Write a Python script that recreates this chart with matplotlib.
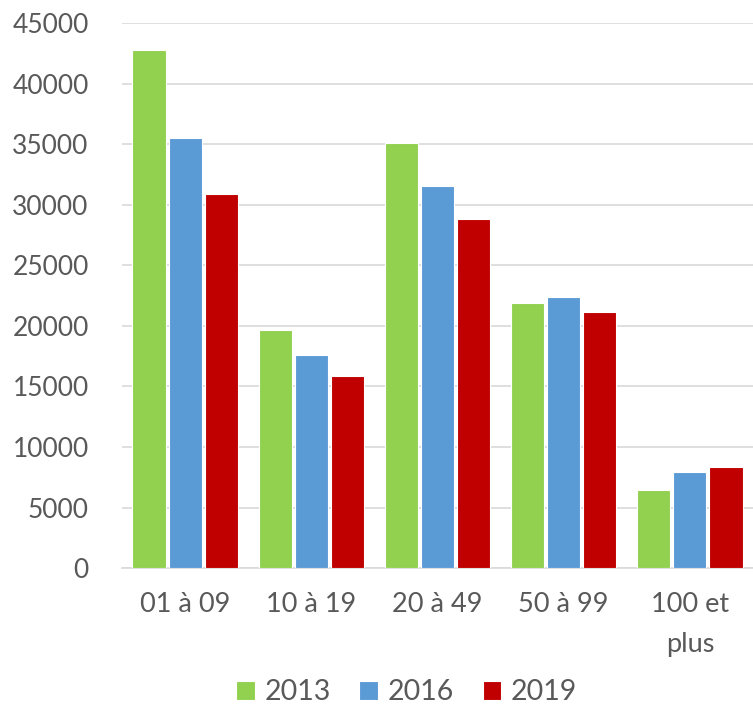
import numpy as np
import matplotlib.pyplot as plt

categories = ["01 à 09", "10 à 19", "20 à 49", "50 à 99", "100 et\nplus"]
years = ["2013", "2016", "2019"]
v2013 = [42770, 19650, 35090, 21880, 6440]
v2016 = [35500, 17590, 31540, 22380, 7930]
v2019 = [30880, 15850, 28820, 21140, 8340]
colors = ["#92D050", "#5B9BD5", "#C00000"]

plt.rcParams["font.family"] = ["Lato", "DejaVu Sans"]

fig = plt.figure(figsize=(7.53, 7.04), dpi=100)
ax = fig.add_axes([0.162, 0.193, 0.838, 0.774])

x = np.arange(len(categories))
w = 0.262
for i, (vals, c, lab) in enumerate(zip([v2013, v2016, v2019], colors, years)):
    ax.bar(x + (i - 1) * (w + 0.024), vals, width=w, color=c, edgecolor="white",
           linewidth=0.8, label=lab, zorder=3)

ax.set_xlim(-0.5, len(categories) - 0.5)
ax.set_ylim(0, 45000)
ax.set_yticks(np.arange(0, 45001, 5000))
ax.set_xticks(x)
ax.set_xticklabels(categories, linespacing=1.75)
ax.tick_params(axis="both", length=0, colors="#595959")
ax.tick_params(axis="x", labelsize=19.5, pad=17)
ax.tick_params(axis="y", labelsize=19, pad=24)
ax.grid(axis="y", color="#D9D9D9", linewidth=1.2, zorder=0)
for s in ["top", "right", "left"]:
    ax.spines[s].set_visible(False)
ax.spines["bottom"].set_color("#D9D9D9")
ax.spines["bottom"].set_linewidth(1.2)

fig.legend(loc="lower center", bbox_to_anchor=(0.54, -0.038), ncol=3, frameon=False,
           fontsize=20.5, labelcolor="#595959", handlelength=0.65, handleheight=0.65,
           handletextpad=0.35, columnspacing=1.0)

fig.savefig("out.png", dpi=100)
